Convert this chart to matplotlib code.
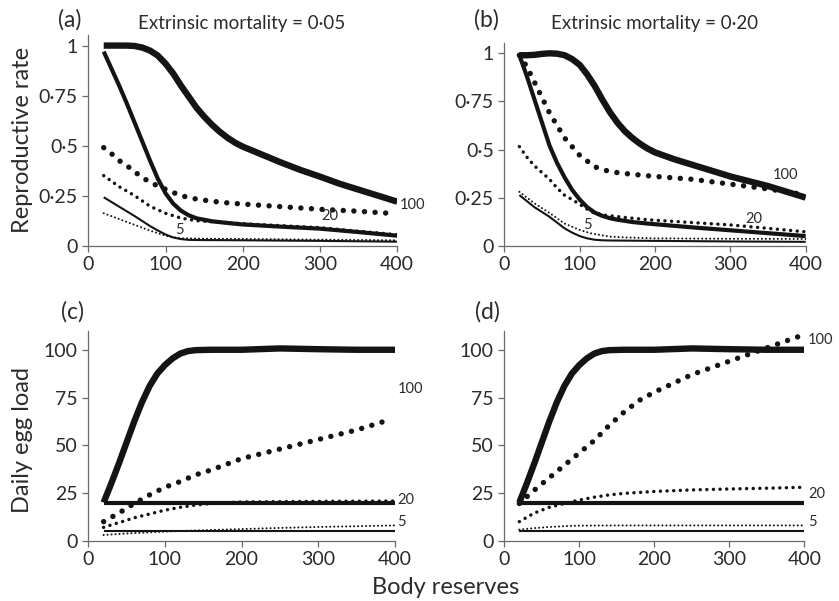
import matplotlib
matplotlib.use("Agg")
import matplotlib.pyplot as plt

plt.rcParams['font.family'] = ['Lato', 'DejaVu Sans']

# ---------------- panel (a): reproductive rate, mortality 0.05 ----------------
a_s100_x = [20, 30, 40, 50, 60, 70, 80, 90, 100, 110, 120, 130, 140, 150, 160, 170, 180, 190, 200, 225, 250, 275, 300, 325, 350, 375, 400]
a_s100_y = [1.0, 1.0, 1.0, 1.0, 0.998, 0.99, 0.975, 0.95, 0.91, 0.86, 0.80, 0.745, 0.69, 0.645, 0.605, 0.57, 0.54, 0.515, 0.495, 0.455, 0.415, 0.378, 0.345, 0.31, 0.28, 0.25, 0.22]
a_d100_x = [20, 30, 40, 50, 60, 70, 80, 90, 100, 120, 140, 160, 180, 200, 250, 300, 350, 390]
a_d100_y = [0.49, 0.46, 0.425, 0.40, 0.37, 0.34, 0.318, 0.298, 0.282, 0.25, 0.233, 0.222, 0.214, 0.208, 0.195, 0.182, 0.172, 0.162]
a_s20_x = [20, 30, 40, 50, 60, 70, 80, 90, 100, 110, 120, 130, 140, 160, 184, 200, 250, 300, 350, 400]
a_s20_y = [0.97, 0.885, 0.80, 0.71, 0.615, 0.52, 0.425, 0.335, 0.262, 0.21, 0.175, 0.152, 0.137, 0.122, 0.112, 0.106, 0.095, 0.085, 0.068, 0.05]
a_d20_x = [20, 40, 60, 80, 100, 120, 140, 160, 200, 250, 300, 350, 400]
a_d20_y = [0.35, 0.295, 0.25, 0.197, 0.162, 0.138, 0.125, 0.12, 0.11, 0.1, 0.09, 0.072, 0.055]
a_s5_x = [20, 40, 60, 80, 90, 100, 110, 120, 130, 150, 200, 300, 400]
a_s5_y = [0.242, 0.195, 0.148, 0.098, 0.076, 0.056, 0.041, 0.033, 0.029, 0.028, 0.027, 0.024, 0.02]
a_d5_x = [20, 40, 60, 80, 100, 110, 120, 150, 200, 300, 400]
a_d5_y = [0.162, 0.133, 0.104, 0.075, 0.05, 0.042, 0.037, 0.035, 0.034, 0.03, 0.027]

# ---------------- panel (b): reproductive rate, mortality 0.20 ----------------
b_s100_x = [20, 30, 40, 50, 60, 70, 80, 90, 100, 110, 120, 130, 140, 150, 160, 170, 180, 190, 200, 225, 250, 275, 300, 325, 350, 375, 400]
b_s100_y = [0.99, 0.99, 0.992, 0.997, 1.0, 0.998, 0.99, 0.97, 0.94, 0.89, 0.83, 0.76, 0.695, 0.64, 0.595, 0.56, 0.53, 0.505, 0.485, 0.45, 0.42, 0.39, 0.36, 0.335, 0.31, 0.28, 0.25]
b_d100_x = [20, 30, 40, 60, 80, 100, 120, 140, 160, 200, 250, 300, 350, 390]
b_d100_y = [0.99, 0.93, 0.85, 0.69, 0.56, 0.47, 0.41, 0.385, 0.375, 0.36, 0.345, 0.32, 0.295, 0.27]
b_s20_x = [20, 30, 40, 50, 60, 70, 80, 90, 100, 110, 120, 130, 140, 150, 170, 190, 250, 300, 350, 400]
b_s20_y = [0.99, 0.88, 0.76, 0.64, 0.52, 0.43, 0.355, 0.29, 0.24, 0.20, 0.172, 0.155, 0.143, 0.135, 0.123, 0.115, 0.095, 0.08, 0.065, 0.05]
b_d20_x = [20, 30, 40, 50, 60, 70, 80, 90, 100, 115, 130, 160, 190, 250, 300, 350, 400]
b_d20_y = [0.515, 0.46, 0.415, 0.38, 0.345, 0.30, 0.262, 0.24, 0.215, 0.177, 0.16, 0.147, 0.135, 0.12, 0.108, 0.09, 0.072]
b_s5_x = [20, 40, 60, 80, 90, 100, 110, 120, 130, 140, 200, 300, 400]
b_s5_y = [0.263, 0.20, 0.15, 0.09, 0.068, 0.05, 0.038, 0.031, 0.028, 0.027, 0.025, 0.022, 0.02]
b_d5_x = [20, 40, 60, 80, 100, 115, 140, 160, 200, 300, 400]
b_d5_y = [0.28, 0.22, 0.17, 0.115, 0.082, 0.064, 0.047, 0.043, 0.038, 0.036, 0.035]

# ---------------- panel (c): daily egg load, mortality 0.05 ----------------
c_s100_x = [20, 30, 40, 50, 60, 70, 80, 90, 100, 110, 120, 130, 140, 160, 200, 250, 300, 350, 400]
c_s100_y = [20, 30, 40.5, 51.5, 62.5, 72.5, 81, 87.5, 92, 95.5, 98, 99.3, 99.8, 100, 100, 100.7, 100.3, 100, 100]
c_d100_x = [20, 40, 60, 80, 100, 120, 140, 160, 200, 250, 300, 350, 390]
c_d100_y = [10, 14.5, 19.5, 24, 28, 31, 34.5, 37, 43, 48, 53, 58, 63]
c_s20_x = [20, 400]
c_s20_y = [20, 20]
c_d20_x = [20, 40, 60, 80, 100, 120, 140, 160, 200, 300, 400]
c_d20_y = [7, 9.5, 12, 14, 16, 17.5, 18.7, 19.5, 20.3, 20.6, 20.8]
c_s5_x = [20, 400]
c_s5_y = [5, 5]
c_d5_x = [20, 50, 100, 150, 200, 250, 300, 350, 400]
c_d5_y = [3, 3.8, 4.8, 5.5, 6.1, 6.7, 7.2, 7.6, 8.0]

# ---------------- panel (d): daily egg load, mortality 0.20 ----------------
d_s100_x = [20, 30, 40, 50, 60, 70, 80, 90, 100, 110, 120, 130, 140, 160, 200, 250, 300, 350, 400]
d_s100_y = [20, 30, 40.5, 51.5, 62.5, 72.5, 81, 87.5, 92, 95.5, 98, 99.3, 99.8, 100, 100, 100.7, 100.3, 100, 100]
d_d100_x = [20, 40, 60, 80, 100, 120, 140, 160, 180, 200, 250, 300, 350, 395]
d_d100_y = [19.5, 26.5, 33, 39.5, 46, 52.5, 60.5, 67.5, 73.5, 77.8, 87, 94, 101, 107.3]
d_s20_x = [20, 400]
d_s20_y = [20, 20]
d_d20_x = [20, 40, 60, 80, 100, 120, 140, 160, 200, 250, 300, 350, 400]
d_d20_y = [10, 14.5, 17.5, 19.5, 21.3, 22.8, 24, 24.8, 25.8, 26.6, 27.1, 27.5, 28]
d_s5_x = [20, 400]
d_s5_y = [5, 5]
d_d5_x = [20, 40, 60, 80, 100, 150, 200, 300, 400]
d_d5_y = [5.8, 6.6, 7.2, 7.6, 7.9, 8.0, 8.0, 8.0, 8.0]

x_ticks = [0, 100, 200, 300, 400]
rate_ticks = [0, 0.25, 0.5, 0.75, 1]
rate_ticklabels = ['0', '0·25', '0·5', '0·75', '1']
egg_ticks = [0, 25, 50, 75, 100]
egg_ticklabels = ['0', '25', '50', '75', '100']

INK = '#141414'
TXT = '#2b2b2b'
SPINE = '#6a6a6a'

fig = plt.figure(figsize=(8.39, 6.01), dpi=100)

def make_axes(rect, ylim, ticks, ticklabels):
    ax = fig.add_axes(rect)
    ax.set_xlim(0, 400)
    ax.set_ylim(*ylim)
    for s in ('top', 'right'):
        ax.spines[s].set_visible(False)
    for s in ('left', 'bottom'):
        ax.spines[s].set_color(SPINE)
        ax.spines[s].set_linewidth(0.9)
    ax.spines['left'].set_bounds(0, ylim[1])
    ax.set_xticks(x_ticks)
    ax.set_xticklabels([str(t) for t in x_ticks])
    ax.set_yticks(ticks)
    ax.set_yticklabels(ticklabels)
    ax.tick_params(direction='out', length=4.5, width=0.9, color=SPINE,
                   labelsize=14, labelcolor=TXT, pad=3)
    ax.patch.set_alpha(0)
    return ax

def draw_set(ax, s100, d100, s20, d20, s5, d5):
    ax.plot(*s100, color=INK, lw=4.6, solid_capstyle='butt', solid_joinstyle='round', zorder=3)
    ax.plot(*s20, color=INK, lw=3.0, solid_capstyle='butt', solid_joinstyle='round', zorder=3)
    ax.plot(*s5, color=INK, lw=1.5, solid_capstyle='butt', solid_joinstyle='round', zorder=3)
    ax.plot(*d100, color=INK, lw=3.9, linestyle=(0, (0.01, 1.95)),
            dash_capstyle='round', zorder=4)
    ax.plot(*d20, color=INK, lw=2.5, linestyle=(0, (0.01, 1.9)),
            dash_capstyle='round', zorder=4)
    ax.plot(*d5, color=INK, lw=1.5, linestyle=(0, (0.01, 1.9)),
            dash_capstyle='round', zorder=4)

def tag(ax, x, y, s):
    ax.text(x, y, s, fontsize=10.5, color=TXT, ha='left', va='center',
            clip_on=False, zorder=5)

ax_a = make_axes([0.1052, 0.5912, 0.3683, 0.3506], (0, 1.053), rate_ticks, rate_ticklabels)
ax_b = make_axes([0.6011, 0.5912, 0.3592, 0.3377], (0, 1.055), rate_ticks, rate_ticklabels)
ax_c = make_axes([0.1052, 0.1003, 0.3656, 0.3495], (0, 110), egg_ticks, egg_ticklabels)
ax_d = make_axes([0.6011, 0.1003, 0.3576, 0.3495], (0, 110), egg_ticks, egg_ticklabels)

draw_set(ax_a, (a_s100_x, a_s100_y), (a_d100_x, a_d100_y), (a_s20_x, a_s20_y),
         (a_d20_x, a_d20_y), (a_s5_x, a_s5_y), (a_d5_x, a_d5_y))
draw_set(ax_b, (b_s100_x, b_s100_y), (b_d100_x, b_d100_y), (b_s20_x, b_s20_y),
         (b_d20_x, b_d20_y), (b_s5_x, b_s5_y), (b_d5_x, b_d5_y))
draw_set(ax_c, (c_s100_x, c_s100_y), (c_d100_x, c_d100_y), (c_s20_x, c_s20_y),
         (c_d20_x, c_d20_y), (c_s5_x, c_s5_y), (c_d5_x, c_d5_y))
draw_set(ax_d, (d_s100_x, d_s100_y), (d_d100_x, d_d100_y), (d_s20_x, d_s20_y),
         (d_d20_x, d_d20_y), (d_s5_x, d_s5_y), (d_d5_x, d_d5_y))

# curve tags
tag(ax_a, 403, 0.205, '100')
tag(ax_a, 302, 0.15, '20')
tag(ax_a, 113, 0.08, '5')
tag(ax_b, 356, 0.37, '100')
tag(ax_b, 320, 0.14, '20')
tag(ax_b, 104, 0.11, '5')
tag(ax_c, 403, 79.5, '100')
tag(ax_c, 403, 21.5, '20')
tag(ax_c, 403, 9.6, '5')
tag(ax_d, 405, 105, '100')
tag(ax_d, 405, 24.4, '20')
tag(ax_d, 405, 9.6, '5')

# panel letters and titles
fig.text(70 / 839, 1 - 20 / 601, '(a)', fontsize=16.5, color=TXT, ha='center', va='center')
fig.text(486 / 839, 1 - 20 / 601, '(b)', fontsize=16.5, color=TXT, ha='center', va='center')
fig.text(72 / 839, 1 - 312 / 601, '(c)', fontsize=16.5, color=TXT, ha='center', va='center')
fig.text(487 / 839, 1 - 312 / 601, '(d)', fontsize=16.5, color=TXT, ha='center', va='center')
fig.text(242 / 839, 1 - 24 / 601, 'Extrinsic mortality = 0·05', fontsize=13.5, color=TXT,
         ha='center', va='center')
fig.text(655 / 839, 1 - 24 / 601, 'Extrinsic mortality = 0·20', fontsize=13.5, color=TXT,
         ha='center', va='center')

# axis titles
fig.text(23 / 839, 1 - 140 / 601, 'Reproductive rate', fontsize=17, color=TXT,
         rotation=90, ha='center', va='center')
fig.text(23 / 839, 1 - 440 / 601, 'Daily egg load', fontsize=17, color=TXT,
         rotation=90, ha='center', va='center')
fig.text(446 / 839, 1 - 587 / 601, 'Body reserves', fontsize=17, color=TXT,
         ha='center', va='center')

fig.savefig('out.png', dpi=100)
